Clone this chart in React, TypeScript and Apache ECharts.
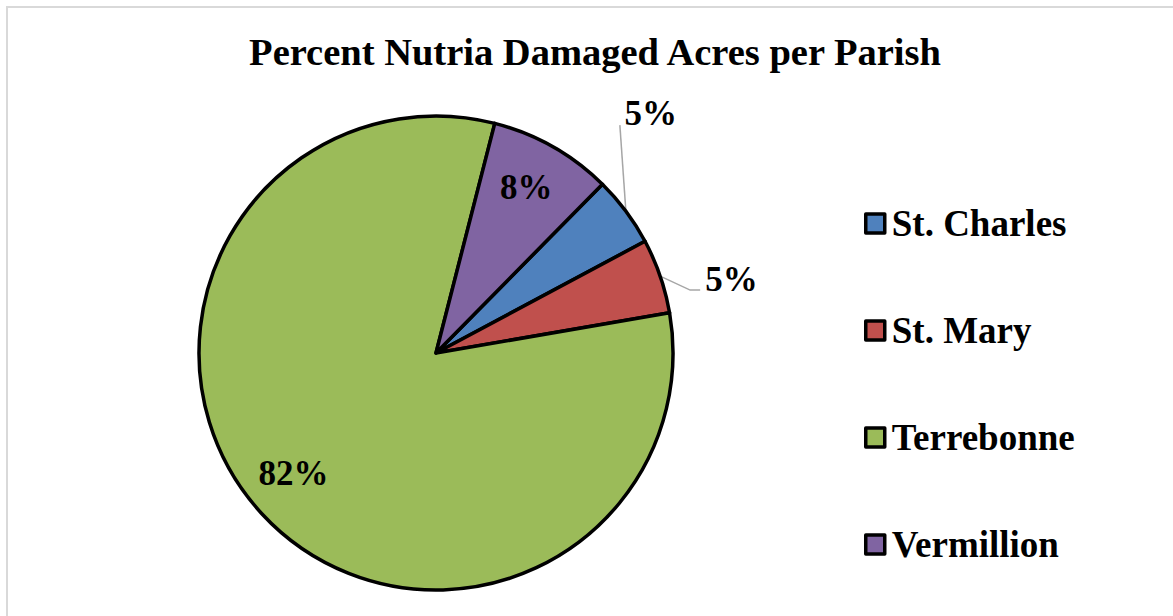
import React, { useEffect, useRef } from "react";
import * as echarts from "echarts";

const titleText = "Percent Nutria Damaged Acres per Parish";
const parishes = ["St. Charles", "St. Mary", "Terrebonne", "Vermillion"];
const percentValues = [4.8, 5.1, 81.7, 8.4];
const sliceColors = ["#4F81BD", "#C0504D", "#9BBB59", "#8064A2"];

const FONT = '"Liberation Serif", "Times New Roman", serif';
const CX = 436;
const CY = 353;
const R = 237;
const START = 45.4;

export default function App() {
  const ref = useRef<HTMLDivElement>(null);

  useEffect(() => {
    if (!ref.current) return;
    const chart = echarts.init(ref.current, undefined, { renderer: "svg" });
    const total = percentValues.reduce((a, b) => a + b, 0);
    const a0 = 90 - START;
    const mids: number[] = [];
    let cum = 0;
    percentValues.forEach((v) => {
      mids.push(a0 + (360 * (cum + v / 2)) / total);
      cum += v;
    });
    const pt = (i: number, r: number) => {
      const a = (mids[i] * Math.PI) / 180;
      return [CX + r * Math.sin(a), CY - r * Math.cos(a)];
    };
    const outside = [true, true, false, false];

    const data = parishes.map((name, i) => ({
      name,
      value: percentValues[i],
      itemStyle: { color: sliceColors[i] },
      label: { position: outside[i] ? "outside" : "inside" },
      labelLine: { show: outside[i] },
    }));

    chart.setOption({
      animation: false,
      backgroundColor: "#ffffff",
      graphic: [
        {
          type: "rect",
          shape: { x: 7, y: 7, width: 1300, height: 800 },
          style: { fill: "none", stroke: "#d9d9d9", lineWidth: 2 },
          silent: true,
        },
        {
          type: "text",
          x: 595,
          y: 52,
          style: {
            text: titleText,
            textAlign: "center",
            textVerticalAlign: "middle",
            font: `bold 38.5px ${FONT}`,
            fill: "#000",
          },
        },
      ],
      legend: {
        orient: "vertical",
        left: 864,
        top: 205,
        padding: 0,
        itemWidth: 19,
        itemHeight: 19,
        itemGap: 70,
        icon: "rect",
        data: parishes,
        selectedMode: false,
        itemStyle: { borderColor: "#000", borderWidth: 3.5 },
        textStyle: {
          fontFamily: FONT,
          fontWeight: "bold",
          fontSize: 37,
          lineHeight: 37,
          color: "#000",
          padding: [0, 0, 0, 2],
        },
      },
      series: [
        {
          type: "pie",
          center: [CX, CY],
          radius: R,
          startAngle: START,
          clockwise: true,
          avoidLabelOverlap: false,
          silent: true,
          emphasis: { disabled: true },
          itemStyle: { borderColor: "#000", borderWidth: 3.5 },
          label: {
            show: true,
            formatter: (p: any) => Math.round(p.percent) + "%",
            fontFamily: FONT,
            fontWeight: "bold",
            fontSize: 35,
            color: "#000",
          },
          labelLine: {
            lineStyle: { color: "#a6a6a6", width: 1.5 },
          },
          labelLayout: (params: any) => {
            const i = params.dataIndex;
            if (i === 0) {
              const [ex, ey] = pt(0, R);
              return {
                x: ex + 25,
                y: ey - 98,
                align: "center",
                verticalAlign: "middle",
                labelLinePoints: [
                  [ex, ey],
                  [ex - 6, ey - 86],
                  [ex - 6, ey - 86],
                ],
              };
            }
            if (i === 1) {
              const [ex, ey] = pt(1, R);
              return {
                x: ex + 45,
                y: ey + 3,
                align: "left",
                verticalAlign: "middle",
                labelLinePoints: [
                  [ex, ey],
                  [ex + 30, ey + 14],
                  [ex + 40, ey + 14],
                ],
              };
            }
            const [x, y] = pt(i, R * 0.79);
            const dx = i === 2 ? -5 : -2;
            const dy = i === 2 ? -6 : -3;
            return { x: x + dx, y: y + dy, align: "center", verticalAlign: "middle" };
          },
          data,
        },
      ],
    });
    return () => chart.dispose();
  }, []);

  return (
    <div
      ref={ref}
      style={{ position: "absolute", left: 0, top: 0, width: 1173, height: 616 }}
    />
  );
}
